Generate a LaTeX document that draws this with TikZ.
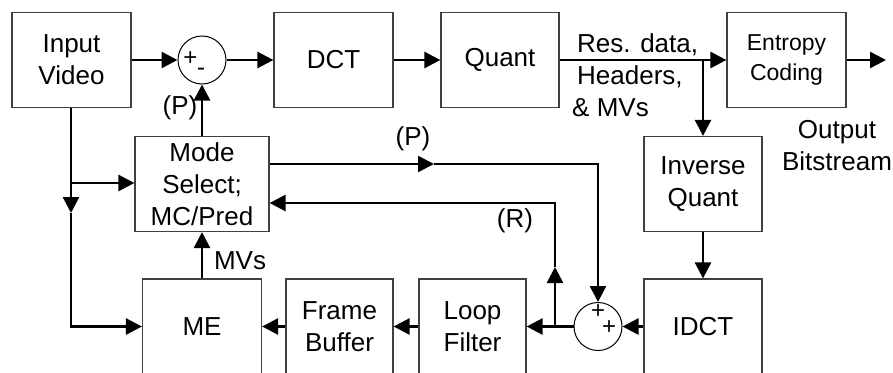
\documentclass[tikz,border=0pt]{standalone}
\usepackage{fontspec}
\setmainfont{Liberation Sans}
\usepackage{tikz}
\usetikzlibrary{arrows.meta, positioning}

\newcommand{\blockfont}{\fontsize{26}{32}\selectfont}
\newcommand{\smallblockfont}{\fontsize{23}{30}\selectfont}

\begin{document}
\begin{tikzpicture}[
    x=1pt, y=-1pt,
    block/.style={draw=black!75, line width=1.2pt, minimum width=119pt, minimum height=95pt, align=center, font=\blockfont, inner sep=0pt},
    sumnode/.style={circle, draw, line width=1pt, minimum size=48pt, inner sep=0pt},
    sign/.style={font=\fontsize{24}{24}\selectfont, inner sep=0pt},
    lbl/.style={font=\blockfont, align=center, inner sep=0pt},
    arrow/.style={-{Triangle[length=16pt, width=16pt]}, line width=2.6pt},
]
\useasboundingbox (0,0) rectangle (893,372);

% Top row
\node[block] (invid) at (71.5, 60) {Input\\Video};
\node[sumnode] (sum1) at (202, 60) {};
\node[block] (dct) at (333.5, 60) {DCT};
\node[block, minimum width=118pt] (quant) at (500, 60) {Quant};
\node[block, font=\smallblockfont] (entropy) at (786.5, 60) {Entropy\\Coding};

% Middle row
\node[block, minimum width=134pt] (mode) at (202, 184) {Mode\\Select;\\MC/Pred};
\node[block, minimum width=118pt] (iquant) at (703, 184) {Inverse\\Quant};

% Bottom row (cut by the lower edge)
\node[block] (me) at (202, 326.5) {ME};
\node[block, minimum width=107pt] (fbuf) at (339.5, 326.5) {Frame\\Buffer};
\node[block, minimum width=107pt] (loop) at (472.5, 326.5) {Loop\\Filter};
\node[sumnode] (sum2) at (598, 326.5) {};
\node[block, minimum width=118pt] (idct) at (703, 326.5) {IDCT};

% Signs in the adders
\node[sign] (s1p) at (190.5, 59) {+};
\node[sign] (s1m) at (201, 72) {-};
\node[sign] (s2a) at (598, 312) {+};
\node[sign] (s2b) at (609, 328) {+};

% Labels
\node[lbl] (lp1) at (180, 108) {(P)};
\node[lbl] (lp2) at (413, 139) {(P)};
\node[lbl] (lr) at (515, 221) {(R)};
\node[lbl] (lmv) at (240, 261) {MVs};
\node[lbl, align=left, anchor=north west] (lres) at (577, 33) {Res. data,\\Headers,\\\hspace*{-5pt}\& MVs};
\node[lbl] (lout) at (837, 146) {Output\\Bitstream};

% Helper points
\coordinate (split) at (703, 60);
\coordinate (outend) at (886, 60);
\coordinate (tap) at (71, 183);
\coordinate (midA) at (71, 213);
\coordinate (pout) at ([yshift=20pt]mode.east);
\coordinate (midP) at (434, 164);
\coordinate (fb) at (555, 326.5);
\coordinate (midR) at (555, 267);
\coordinate (rin) at ([yshift=-19pt]mode.east);

% Forward path
\draw[arrow] (invid) -- (sum1);
\draw[arrow] (sum1) -- (dct);
\draw[arrow] (dct) -- (quant);
\draw[arrow] (quant) -- (entropy);
\draw[arrow] (entropy) -- (outend);
\draw[arrow] (split) -- (iquant);
\draw[arrow] (iquant) -- (idct);

% Reconstruction loop
\draw[arrow] (idct) -- (sum2);
\draw[arrow] (sum2) -- (loop);
\draw[arrow] (loop) -- (fbuf);
\draw[arrow] (fbuf) -- (me);
\draw[arrow] (me) -- (mode);
\draw[arrow] (mode) -- (sum1);

% Input video to ME and mode select
\draw[arrow] (invid.south -| tap) -- (midA);
\draw[arrow] (midA) |- (me.west);
\draw[arrow] (tap) -- (tap -| mode.west);

% Prediction to adder
\draw[arrow] (pout) -- (midP);
\draw[arrow] (midP) -| (sum2);

% Reference back to mode select
\draw[arrow] (fb) -- (midR);
\draw[arrow] (midR) |- (rin);

\end{tikzpicture}
\end{document}
